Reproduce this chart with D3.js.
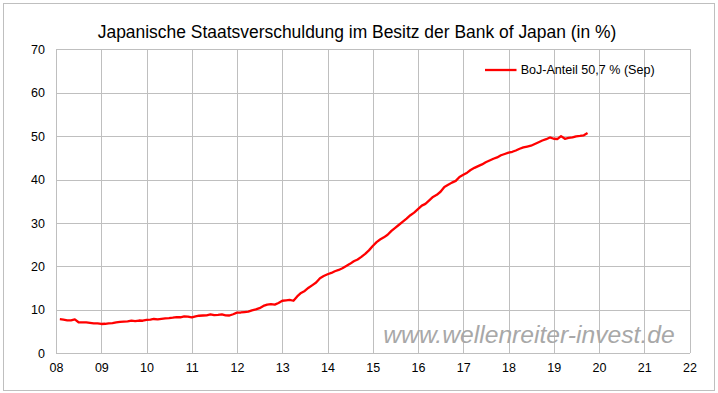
<!DOCTYPE html>
<html>
<head>
<meta charset="utf-8">
<script src="https://cdn.jsdelivr.net/npm/d3@7"></script>
<style>
  html, body { margin: 0; padding: 0; background: #fff; }
  svg { display: block; font-family: "Liberation Sans", Arial, sans-serif; }
</style>
</head>
<body>
<svg id="chart" width="718" height="393"></svg>
<script>
// ---- Data (monthly, Jan 2008 – Sep 2019, share of JGBs held by BoJ in %) ----
const startMonth = "2008-01";
const values2008 = [7.85, 7.75, 7.6, 7.6, 7.8, 7.15, 7.1, 7.1, 7.0, 6.9, 6.9, 6.75];
const values2009 = [6.8, 6.9, 6.95, 7.1, 7.25, 7.3, 7.35, 7.5, 7.4, 7.55, 7.5, 7.7];
const values2010 = [7.75, 7.9, 7.8, 7.95, 8.05, 8.1, 8.2, 8.35, 8.3, 8.5, 8.45, 8.25];
const values2011 = [8.5, 8.65, 8.7, 8.75, 8.95, 8.8, 8.85, 8.95, 8.75, 8.7, 9.0, 9.35];
const values2012 = [9.4, 9.5, 9.6, 9.9, 10.1, 10.4, 10.9, 11.2, 11.3, 11.2, 11.6, 12.1];
const values2013 = [12.2, 12.3, 12.1, 13.1, 13.9, 14.35, 15.1, 15.7, 16.3, 17.3, 17.8, 18.2];
const values2014 = [18.5, 18.9, 19.2, 19.6, 20.1, 20.6, 21.2, 21.6, 22.2, 22.9, 23.7, 24.7];
const values2015 = [25.6, 26.2, 26.7, 27.3, 28.2, 28.9, 29.6, 30.3, 31.0, 31.8, 32.4, 33.2];
const values2016 = [34.0, 34.4, 35.2, 36.0, 36.5, 37.2, 38.3, 38.8, 39.3, 39.7, 40.6, 41.1];
const values2017 = [41.6, 42.2, 42.7, 43.1, 43.5, 44.0, 44.4, 44.8, 45.1, 45.6, 45.9, 46.2];
const values2018 = [46.4, 46.7, 47.1, 47.4, 47.6, 47.8, 48.2, 48.6, 49.0, 49.3, 49.7, 49.4];
const values2019 = [49.35, 50.0, 49.4, 49.6, 49.7, 49.95, 50.05, 50.2, 50.7];

const yTicks = [0, 10, 20, 30, 40, 50, 60, 70];
const xTickYears = [2008, 2009, 2010, 2011, 2012, 2013, 2014, 2015, 2016, 2017, 2018, 2019, 2020, 2021, 2022];
const titleText = "Japanische Staatsverschuldung im Besitz der Bank of Japan (in %)";
const legendText = "BoJ-Anteil 50,7 % (Sep)";
const watermarkText = "www.wellenreiter-invest.de";

// ---- Build series ----
const allValues = [].concat(values2008, values2009, values2010, values2011, values2012,
  values2013, values2014, values2015, values2016, values2017, values2018, values2019);
const parseMonth = d3.timeParse("%Y-%m");
const start = parseMonth(startMonth);
// each monthly value is plotted at the end of its month
const series = allValues.map((v, i) => ({ date: d3.timeMonth.offset(start, i + 1), value: v }));

// ---- Layout ----
const W = 718, H = 393;
const margin = { left: 56, right: 28.5, top: 49.3, bottom: 39.7 };
const iw = W - margin.left - margin.right;
const ih = H - margin.top - margin.bottom;

const svg = d3.select("#chart");

// outer border
svg.append("rect")
  .attr("x", 3.5).attr("y", 3.5)
  .attr("width", W - 7).attr("height", H - 6)
  .attr("fill", "#fff").attr("stroke", "#bfbfbf").attr("stroke-width", 1);

const x = d3.scaleTime()
  .domain([new Date(xTickYears[0], 0, 1), new Date(xTickYears[xTickYears.length - 1], 0, 1)])
  .range([0, iw]);
const y = d3.scaleLinear().domain([0, 70]).range([ih, 0]);

const g = svg.append("g").attr("transform", `translate(${margin.left},${margin.top})`);

// watermark (behind gridlines)
const wm = svg.append("text")
  .attr("x", 383.3).attr("y", 343)
  .attr("font-size", 21).attr("font-style", "italic")
  .attr("fill", "#a8a8a8")
  .text(watermarkText);
{
  const w = wm.node().getComputedTextLength();
  wm.attr("font-size", 21 * 291.7 / w);
}

// horizontal gridlines + y labels
const yAxis = d3.axisLeft(y).tickValues(yTicks).tickSize(-iw).tickPadding(11).tickFormat(d3.format("d"));
const gy = g.append("g").call(yAxis);
gy.select(".domain").remove();
gy.selectAll(".tick line").attr("stroke", "#bfbfbf").attr("stroke-width", 1).attr("shape-rendering", "crispEdges");
gy.selectAll(".tick text").attr("font-size", 12.5).attr("fill", "#000")
  .attr("font-family", "'Liberation Sans', Arial, sans-serif");

// vertical gridlines + x labels
const xAxis = d3.axisBottom(x)
  .tickValues(xTickYears.map(yr => new Date(yr, 0, 1)))
  .tickSize(-ih).tickPadding(10)
  .tickFormat(d3.timeFormat("%y"));
const gx = g.append("g").attr("transform", `translate(0,${ih})`).call(xAxis);
gx.select(".domain").remove();
gx.selectAll(".tick line").attr("stroke", "#bfbfbf").attr("stroke-width", 1).attr("shape-rendering", "crispEdges");
gx.selectAll(".tick text").attr("font-size", 12.5).attr("fill", "#000")
  .attr("font-family", "'Liberation Sans', Arial, sans-serif");

// data line
const line = d3.line().x(d => x(d.date)).y(d => y(d.value));
g.append("path")
  .datum(series)
  .attr("d", line)
  .attr("fill", "none")
  .attr("stroke", "#ff0000")
  .attr("stroke-width", 2.3)
  .attr("stroke-linejoin", "round");

// title
const title = svg.append("text")
  .attr("x", 357).attr("y", 38)
  .attr("text-anchor", "middle")
  .attr("font-size", 17).attr("fill", "#000")
  .text(titleText);
{
  const w = title.node().getComputedTextLength();
  title.attr("font-size", 17 * 519 / w);
}

// legend
svg.append("line")
  .attr("x1", 485).attr("x2", 516.5).attr("y1", 70).attr("y2", 70)
  .attr("stroke", "#ff0000").attr("stroke-width", 2.3);
const lt = svg.append("text")
  .attr("x", 520.7).attr("y", 74.3)
  .attr("font-size", 12.5).attr("fill", "#000")
  .text(legendText);
{
  const w = lt.node().getComputedTextLength();
  lt.attr("font-size", 12.5 * 134 / w);
}
</script>
</body>
</html>
